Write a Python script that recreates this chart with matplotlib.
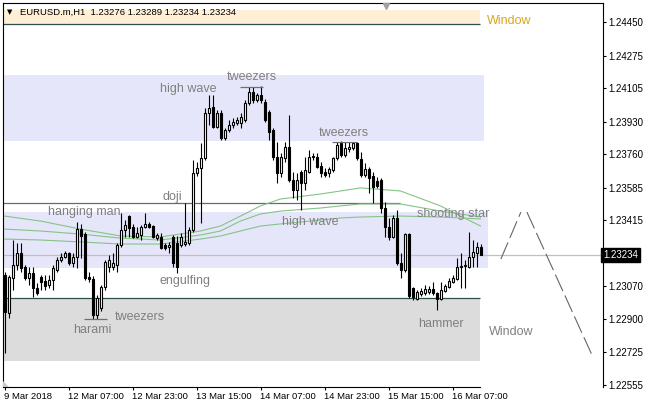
import numpy as np
import matplotlib
matplotlib.use("Agg")
import matplotlib.pyplot as plt
from matplotlib.patches import Rectangle, Polygon
from matplotlib.transforms import blended_transform_factory

plt.rcParams['lines.scale_dashes'] = False
plt.rcParams['font.family'] = ['Liberation Sans', 'DejaVu Sans']

# ---------------- data (EURUSD.m, H1) ----------------
opens = [1.23129, 1.22931, 1.23114, 1.23182, 1.23244, 1.23171, 1.23114, 1.23140, 1.23061, 1.23119,
         1.23098, 1.23077, 1.23103, 1.23155, 1.23208, 1.23223, 1.23244, 1.23192, 1.23223, 1.23369,
         1.23343, 1.23119, 1.23108, 1.22921, 1.22957, 1.23067, 1.23171, 1.23171, 1.23182, 1.23286,
         1.23364, 1.23437, 1.23380, 1.23328, 1.23338, 1.23380, 1.23396, 1.23385, 1.23322, 1.23328,
         1.23286, 1.23275, 1.23328, 1.23296, 1.23286, 1.23291, 1.23296, 1.23364, 1.23662, 1.23688,
         1.23740, 1.23975, 1.24006, 1.23902, 1.23975, 1.23845, 1.23886, 1.23912, 1.23923, 1.23923,
         1.23938, 1.24027, 1.24085, 1.24043, 1.24069, 1.24033, 1.23980, 1.23886, 1.23745, 1.23662,
         1.23740, 1.23798, 1.23625, 1.23573, 1.23667, 1.23610, 1.23667, 1.23745, 1.23745, 1.23698,
         1.23667, 1.23662, 1.23678, 1.23740, 1.23818, 1.23756, 1.23787, 1.23792, 1.23818, 1.23735,
         1.23651, 1.23683, 1.23646, 1.23620, 1.23625, 1.23479, 1.23380, 1.23328, 1.23427, 1.23192,
         1.23155, 1.23343, 1.23061, 1.23004, 1.23030, 1.23035, 1.23041, 1.23056, 1.23035, 1.23004,
         1.23046, 1.23067, 1.23093, 1.23108, 1.23171, 1.23176, 1.23171, 1.23223, 1.23244, 1.23276]
highs = [1.23145, 1.23129, 1.23312, 1.23296, 1.23296, 1.23182, 1.23171, 1.23171, 1.23088, 1.23129,
         1.23129, 1.23129, 1.23182, 1.23223, 1.23244, 1.23255, 1.23249, 1.23244, 1.23406, 1.23396,
         1.23354, 1.23145, 1.23124, 1.23025, 1.23077, 1.23208, 1.23234, 1.23244, 1.23296, 1.23453,
         1.23416, 1.23443, 1.23396, 1.23380, 1.23390, 1.23453, 1.23406, 1.23390, 1.23349, 1.23349,
         1.23296, 1.23302, 1.23338, 1.23333, 1.23349, 1.23505, 1.23380, 1.23730, 1.23719, 1.23818,
         1.24001, 1.24069, 1.24069, 1.23991, 1.23991, 1.23897, 1.23938, 1.23949, 1.23954, 1.23975,
         1.24043, 1.24111, 1.24111, 1.24079, 1.24116, 1.24048, 1.23991, 1.23897, 1.23824, 1.23766,
         1.23824, 1.23965, 1.23667, 1.23662, 1.23678, 1.23745, 1.23782, 1.23766, 1.23766, 1.23719,
         1.23688, 1.23693, 1.23745, 1.23824, 1.23829, 1.23824, 1.23824, 1.23824, 1.23824, 1.23771,
         1.23714, 1.23693, 1.23667, 1.23641, 1.23636, 1.23510, 1.23427, 1.23443, 1.23469, 1.23244,
         1.23349, 1.23349, 1.23067, 1.23051, 1.23061, 1.23077, 1.23072, 1.23093, 1.23041, 1.23093,
         1.23082, 1.23114, 1.23129, 1.23218, 1.23244, 1.23208, 1.23354, 1.23312, 1.23302, 1.23289]
lows = [1.22722, 1.22905, 1.23051, 1.23155, 1.23145, 1.23103, 1.23077, 1.23014, 1.23025, 1.23051,
        1.23051, 1.23061, 1.23051, 1.23145, 1.23197, 1.23218, 1.23182, 1.23171, 1.23166, 1.23218,
        1.23103, 1.23093, 1.22900, 1.22900, 1.22941, 1.23051, 1.23145, 1.23155, 1.23145, 1.23275,
        1.23328, 1.23328, 1.23322, 1.23322, 1.23312, 1.23375, 1.23375, 1.23322, 1.23312, 1.23265,
        1.23260, 1.23244, 1.23171, 1.23140, 1.23275, 1.23281, 1.23286, 1.23354, 1.23646, 1.23401,
        1.23730, 1.23912, 1.23897, 1.23897, 1.23834, 1.23834, 1.23876, 1.23897, 1.23912, 1.23897,
        1.23928, 1.24017, 1.24027, 1.24033, 1.24027, 1.23928, 1.23834, 1.23730, 1.23610, 1.23641,
        1.23719, 1.23615, 1.23531, 1.23521, 1.23469, 1.23573, 1.23662, 1.23730, 1.23688, 1.23641,
        1.23641, 1.23641, 1.23667, 1.23730, 1.23745, 1.23745, 1.23771, 1.23782, 1.23730, 1.23641,
        1.23641, 1.23557, 1.23505, 1.23584, 1.23453, 1.23328, 1.23312, 1.23322, 1.23182, 1.23114,
        1.23145, 1.23009, 1.22999, 1.22999, 1.23020, 1.23025, 1.23030, 1.23025, 1.22947, 1.22999,
        1.23041, 1.23061, 1.23088, 1.23103, 1.23061, 1.23061, 1.23166, 1.23171, 1.23171, 1.23234]
closes = [1.22936, 1.23119, 1.23182, 1.23244, 1.23166, 1.23114, 1.23140, 1.23061, 1.23035, 1.23093,
          1.23072, 1.23103, 1.23166, 1.23208, 1.23223, 1.23244, 1.23192, 1.23223, 1.23369, 1.23333,
          1.23114, 1.23108, 1.22921, 1.23009, 1.23067, 1.23197, 1.23208, 1.23192, 1.23286, 1.23364,
          1.23390, 1.23375, 1.23328, 1.23349, 1.23380, 1.23396, 1.23380, 1.23328, 1.23338, 1.23270,
          1.23270, 1.23286, 1.23192, 1.23171, 1.23328, 1.23302, 1.23364, 1.23662, 1.23688, 1.23740,
          1.23975, 1.24001, 1.23902, 1.23975, 1.23845, 1.23886, 1.23912, 1.23928, 1.23938, 1.23954,
          1.24027, 1.24085, 1.24043, 1.24069, 1.24043, 1.23938, 1.23876, 1.23745, 1.23662, 1.23745,
          1.23798, 1.23625, 1.23573, 1.23625, 1.23610, 1.23678, 1.23745, 1.23751, 1.23693, 1.23662,
          1.23651, 1.23683, 1.23740, 1.23808, 1.23756, 1.23792, 1.23798, 1.23818, 1.23740, 1.23651,
          1.23683, 1.23636, 1.23589, 1.23594, 1.23479, 1.23380, 1.23328, 1.23427, 1.23192, 1.23155,
          1.23343, 1.23020, 1.23014, 1.23041, 1.23046, 1.23056, 1.23056, 1.23035, 1.23004, 1.23051,
          1.23072, 1.23098, 1.23114, 1.23171, 1.23176, 1.23182, 1.23223, 1.23249, 1.23275, 1.23234]

# moving averages (sampled at bar numbers)
ma_bars = [0, 9, 19, 29, 39, 49, 54, 59, 64, 69, 79, 84, 89, 99, 109, 114, 119]
ma_a = [1.23437, 1.23411, 1.23369, 1.23333, 1.23328, 1.23359, 1.23385, 1.23437, 1.23490, 1.23526,
        1.23552, 1.23568, 1.23584, 1.23568, 1.23490, 1.23437, 1.23385]
ma_b = [1.23369, 1.23359, 1.23343, 1.23322, 1.23312, 1.23338, 1.23359, 1.23411, 1.23448, 1.23463,
        1.23479, 1.23490, 1.23500, 1.23500, 1.23463, 1.23448, 1.23432]
ma_c = [1.23317, 1.23312, 1.23302, 1.23291, 1.23291, 1.23317, 1.23333, 1.23359, 1.23385, 1.23396,
        1.23416, 1.23427, 1.23432, 1.23437, 1.23432, 1.23427, 1.23422]

time_labels = ["9 Mar 2018", "12 Mar 07:00", "12 Mar 23:00", "13 Mar 15:00",
               "14 Mar 07:00", "14 Mar 23:00", "15 Mar 15:00", "16 Mar 07:00"]
bars_per_label = 16
price_ticks = [1.24450, 1.24275, 1.24105, 1.23930, 1.23760, 1.23585, 1.23415,
               1.23070, 1.22900, 1.22725, 1.22555]
bid = 1.23234

# drawn objects (bar number, price)
window_top = (1.24440, 1.24513)
zone_high = (1.23829, 1.24173)
zone_mid = (1.23166, 1.23458)
window_bottom = (1.22680, 1.23009)
doji_level = 1.23505
tweezer_marks = [(58.9, 64.6, 1.24111), (81.9, 88.1, 1.23824), (19.9, 25.6, 1.22900)]
forecast_up_x = [124.1, 129.1]
forecast_up_y = [1.23213, 1.23458]
forecast_dn_x = [130.6, 147.1]
forecast_dn_y = [1.23458, 1.22701]

labels = [("high wave", 45.9, 1.24100), ("tweezers", 61.9, 1.24163),
          ("tweezers", 84.9, 1.23871), ("doji", 41.9, 1.23537),
          ("hanging man", 19.9, 1.23458), ("high wave", 76.4, 1.23406),
          ("shooting star", 112.1, 1.23448), ("engulfing", 45.1, 1.23098),
          ("tweezers", 33.9, 1.22910), ("harami", 21.9, 1.22842),
          ("hammer", 109.1, 1.22874)]

# ---------------- figure ----------------
W, H = 646, 409
fig = plt.figure(figsize=(W / 100, H / 100), dpi=100)
ax = fig.add_axes([3 / W, 22 / H, 600 / W, 384 / H])
ax.set_xlim(-0.375, 149.625)
ax.set_ylim(1.225447, 1.245492)

last_bar = len(opens) - 1
xmin = -5

def zone(lo_hi, right, color):
    lo, hi = lo_hi
    ax.add_patch(Rectangle((xmin, lo), right - xmin, hi - lo, facecolor=color,
                           edgecolor='none', zorder=0))

zone(window_top, 118.9, '#FFEFD5')
zone(zone_high, 119.9, '#E6E6FA')
zone(zone_mid, 120.9, '#E6E6FA')
zone(window_bottom, 118.9, '#DCDCDC')

ax.hlines(window_top[0], xmin, 118.9, color='#2F4F4F', lw=0.9, zorder=1)
ax.hlines(window_bottom[1], xmin, 118.9, color='#2F4F4F', lw=0.9, zorder=1)
ax.hlines(doji_level, xmin, 98.9, color='#696969', lw=0.9, zorder=1)
ax.axhline(bid, color='#C0C0C0', lw=0.9, zorder=1)

for x0, x1, y in tweezer_marks:
    ax.hlines(y, x0, x1, color='#707070', lw=0.9, zorder=7)

# moving averages
for ma in (ma_a, ma_b, ma_c):
    ax.plot(ma_bars, ma, color='#86C386', lw=0.8, zorder=3)

# candles
o = np.array(opens); h = np.array(highs); l = np.array(lows); c = np.array(closes)
idx = np.arange(len(o))
ax.vlines(idx, l, h, color='black', lw=0.8, zorder=5)
bottom = np.minimum(o, c)
height = np.maximum(np.abs(c - o), 1e-6)
face = np.where(c >= o, 'white', 'black')
ax.bar(idx, height, width=0.5, bottom=bottom, color=face, edgecolor='black',
       linewidth=0.8, zorder=6)

# forecast
ax.plot(forecast_up_x, forecast_up_y, color='#666666', lw=0.8, dashes=(13, 3.5), zorder=4)
ax.plot(forecast_dn_x, forecast_dn_y, color='#666666', lw=0.8, dashes=(13, 3.5), zorder=4)

# pattern labels
for txt, x, y in labels:
    ax.text(x, y, txt, ha='center', va='center', fontsize=9, color='#808080', zorder=8)
ax.text(120.6, 1.24455, "Window", ha='left', va='center', fontsize=9, color='#DAA520', zorder=8)
ax.text(121.1, 1.22832, "Window", ha='left', va='center', fontsize=9, color='#808080', zorder=8)

# header
ax.text(4 / 600, (387 - 12) / 384, "\u25BC", transform=ax.transAxes, fontsize=5,
        ha='left', va='center', family=['DejaVu Sans'], zorder=9)
ax.text(17 / 600, (387 - 12) / 384,
        "EURUSD.m,H1  %.5f %.5f %.5f %.5f" % (opens[-1], highs[-1], lows[-1], closes[-1]),
        transform=ax.transAxes, fontsize=6.8, ha='left', va='center', color='black', zorder=9)

# shift markers
ax.plot([(386 - 3) / 600], [(387 - 6) / 384], marker='v', markersize=5, color='#A0A0A0',
        transform=ax.transAxes, clip_on=False, zorder=9)
ax.add_patch(Polygon([(0, 0), (6 / 600, 0), (0, 6 / 384)], closed=True, transform=ax.transAxes,
                     facecolor='#C8C8C8', edgecolor='none', zorder=9))

# axes styling
for s in ('left', 'top', 'right'):
    ax.spines[s].set_linewidth(0.8)
    ax.spines[s].set_color('black')
ax.spines['bottom'].set_linewidth(0.8)
ax.spines['bottom'].set_bounds(-0.375, 118.9)

ax.yaxis.tick_right()
ax.set_yticks(price_ticks)
ax.set_yticklabels(["%.5f" % p for p in price_ticks])
ax.tick_params(axis='y', direction='out', length=2.2, width=0.8, pad=1.5, labelsize=7,
               left=False, right=True)
ax.set_xticks([k * bars_per_label for k in range(len(time_labels))])
ax.set_xticklabels(time_labels)
ax.tick_params(axis='x', direction='out', length=2.2, width=0.8, pad=1.5, labelsize=6.8,
               top=False, bottom=True)
for lbl in ax.get_xticklabels():
    lbl.set_ha('left')

tr = blended_transform_factory(ax.transAxes, ax.transData)
ax.text(1.0, bid, "%.5f" % bid, transform=tr, ha='left', va='center', fontsize=7,
        color='white', zorder=10, clip_on=False,
        bbox=dict(boxstyle='square,pad=0.25', facecolor='black', edgecolor='black'))

fig.savefig("out.png", dpi=100)
